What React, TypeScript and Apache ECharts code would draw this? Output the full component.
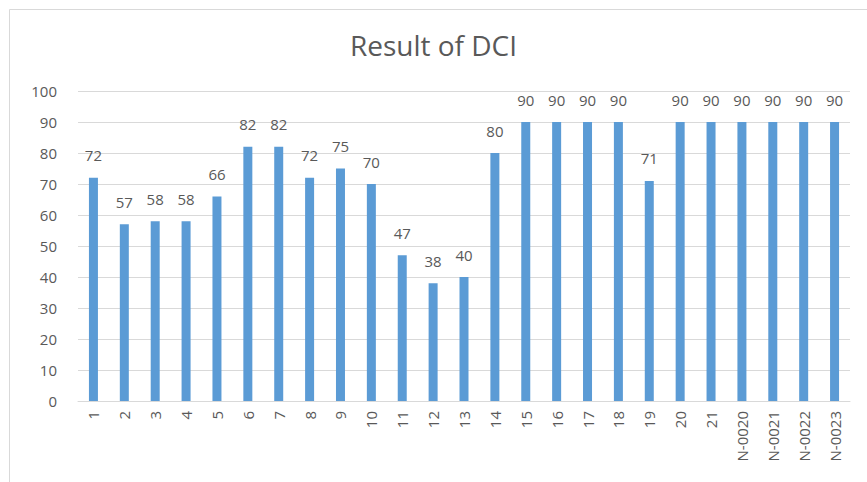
import React, { useEffect, useRef } from "react";
import * as echarts from "echarts";

const categories = [
  "1", "2", "3", "4", "5", "6", "7", "8", "9", "10", "11", "12", "13", "14",
  "15", "16", "17", "18", "19", "20", "21", "N-0020", "N-0021", "N-0022", "N-0023",
];
const values = [72, 57, 58, 58, 66, 82, 82, 72, 75, 70, 47, 38, 40, 80, 90, 90, 90, 90, 71, 90, 90, 90, 90, 90, 90];
const chartTitle = "Result of DCI";

const FONT = "'Open Sans', 'Noto Sans', sans-serif";
const TEXT = "#595959";

export default function App() {
  const ref = useRef<HTMLDivElement>(null);
  useEffect(() => {
    document.body.style.margin = "0";
    const chart = echarts.init(ref.current!, null, { renderer: "svg" });
    chart.setOption({
      animation: false,
      backgroundColor: "#ffffff",
      title: {
        text: chartTitle,
        left: "center",
        top: 26,
        textStyle: { fontFamily: FONT, fontSize: 28, fontWeight: "normal", color: TEXT },
      },
      graphic: [
        {
          type: "rect",
          shape: { x: 9.5, y: 9.5, width: 900, height: 520 },
          style: { fill: "none", stroke: "#d9d9d9", lineWidth: 1 },
          silent: true,
        },
      ],
      grid: { left: 78, right: 17, top: 91, bottom: 81, containLabel: false },
      xAxis: {
        type: "category",
        data: categories,
        axisLine: { lineStyle: { color: "#d9d9d9" } },
        axisTick: { show: false },
        axisLabel: {
          rotate: 90,
          interval: 0,
          margin: 10,
          color: TEXT,
          fontFamily: FONT,
          fontSize: 15,
        },
      },
      yAxis: {
        type: "value",
        min: 0,
        max: 100,
        interval: 10,
        axisLine: { show: false },
        axisTick: { show: false },
        splitLine: { lineStyle: { color: "#d9d9d9" } },
        axisLabel: { color: TEXT, fontFamily: FONT, fontSize: 15, margin: 21 },
      },
      series: [
        {
          type: "bar",
          data: values,
          barWidth: 9,
          itemStyle: { color: "#5b9bd5" },
          label: {
            show: true,
            position: "top",
            distance: 15,
            color: TEXT,
            fontFamily: FONT,
            fontSize: 15,
          },
        },
      ],
    });
    return () => chart.dispose();
  }, []);
  return <div ref={ref} style={{ width: 867, height: 482 }} />;
}
